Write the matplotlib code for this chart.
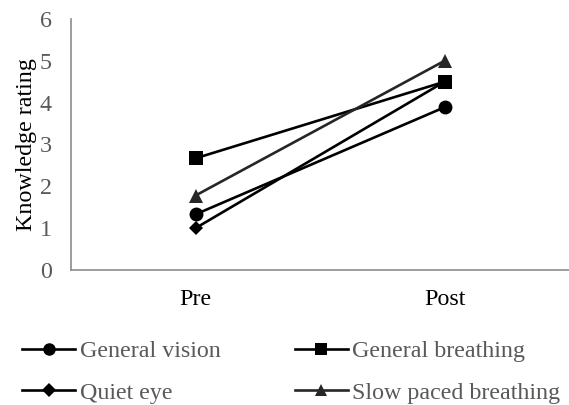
import matplotlib.pyplot as plt
from matplotlib.lines import Line2D

plt.rcParams['font.family'] = ['Liberation Serif', 'DejaVu Serif']

phases = ["Pre", "Post"]
general_vision = [1.33, 3.89]
general_breathing = [2.67, 4.50]
quiet_eye = [1.00, 4.50]
slow_paced_breathing = [1.78, 5.00]

series = [
    ("General vision", general_vision, "o", "#000000", 10),
    ("General breathing", general_breathing, "s", "#000000", 10),
    ("Quiet eye", quiet_eye, "D", "#000000", 7.5),
    ("Slow paced breathing", slow_paced_breathing, "^", "#262626", 10),
]

FS = 17.3

fig = plt.figure(figsize=(5.69, 4.05), dpi=100)
ax = fig.add_axes([71 / 569, 1 - 270 / 405, 1 - 71 / 569, (270 - 19) / 405])

x = list(range(len(phases)))
handles = []
for name, vals, mk, col, ms in series:
    ax.plot(x, vals, marker=mk, color=col, markersize=ms, linewidth=1.9,
            markeredgewidth=0, solid_capstyle='butt')
    handles.append(Line2D([0], [0], marker=mk, color=col, markersize=ms * 0.9,
                          linewidth=1.9, markeredgewidth=0))

ax.set_xlim(-0.5, 1.5)
ax.set_ylim(0, 6)
ax.set_xticks(x)
ax.set_xticklabels(phases, fontsize=FS, color="#000000")
ax.set_yticks(range(7))
ax.tick_params(axis='y', labelsize=FS, labelcolor="#595959", length=0, pad=14)
ax.tick_params(axis='x', length=0, pad=14)
ax.set_ylabel("Knowledge rating", fontsize=FS, labelpad=2)
for s in ("top", "right"):
    ax.spines[s].set_visible(False)
for s in ("left", "bottom"):
    ax.spines[s].set_color("#8c8c8c")
    ax.spines[s].set_linewidth(1.2)

# 2x2 legend below the axes; matplotlib fills columns first
order = [0, 2, 1, 3]
fig.legend([handles[i] for i in order], [series[i][0] for i in order],
           loc="lower left", bbox_to_anchor=(21 / 569, 0.0), ncol=2,
           frameon=False, fontsize=FS, handlelength=2.2, handletextpad=0.2,
           columnspacing=3.08, labelspacing=0.83, labelcolor="#595959",
           borderaxespad=0.0, borderpad=0.05)

fig.savefig("out.png", dpi=100)
